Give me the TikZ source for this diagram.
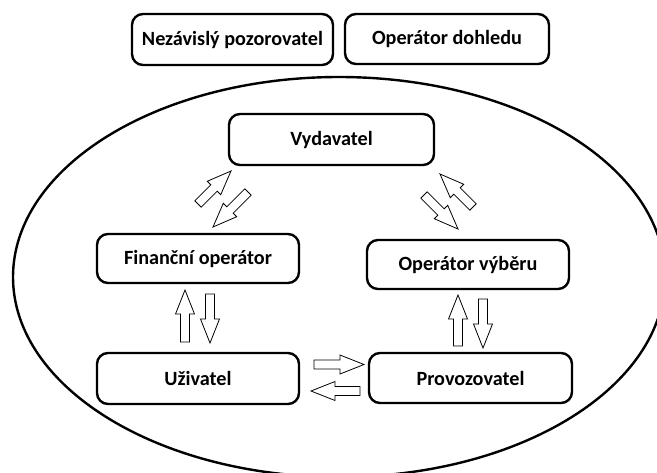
\documentclass[tikz,border=0pt]{standalone}
\usepackage{fontspec}
\setmainfont{Carlito}
\usetikzlibrary{calc}
\tikzset{
  box/.style={draw=black, line width=2.4pt, rounded corners=11pt, inner sep=0pt,
    font=\fontsize{20.2}{22}\selectfont\bfseries, text=black},
  blockarrowstyle/.style={draw=black, line width=0.8pt, fill=white, line join=miter},
  rim/.style={draw=black, line width=2.4pt}
}
\newcommand\blockarrow[2]{%
  \draw[blockarrowstyle] let \p1=($(#2)-(#1)$), \n1={atan2(\y1,\x1)}, \n2={veclen(\x1,\y1)} in
    [shift={(#1)}, rotate=\n1]
    (0,-4.5) -- ({\n2-24},-4.5) -- ({\n2-24},-9.5) -- (\n2,0) --
    ({\n2-24},9.5) -- ({\n2-24},4.5) -- (0,4.5) -- cycle;}
\begin{document}
\begin{tikzpicture}[x=1pt,y=-1pt]
\useasboundingbox (0,0) rectangle (657,472);
\clip (0,0) rectangle (657,472);
\fill[white] (0,0) rectangle (657,472);
% outer ellipse
\draw[rim] (339,277) ellipse [x radius=326pt, y radius=200pt];
% boxes
\node[box, minimum width=201pt, minimum height=51pt] (nez) at (232.5,39.5) {Nezávislý pozorovatel};
\node[box, minimum width=204pt, minimum height=50pt] (doh) at (447,39) {Operátor dohledu};
\node[box, minimum width=205pt, minimum height=51pt] (vyd) at (331.5,139.5) {Vydavatel};
\node[box, minimum width=202pt, minimum height=49pt] (fin) at (198,258.5) {Finanční operátor};
\node[box, minimum width=202pt, minimum height=49pt] (vyb) at (468,264.5) {Operátor výběru};
\node[box, minimum width=202pt, minimum height=51pt] (uzi) at (198,378.5) {Uživatel};
\node[box, minimum width=203pt, minimum height=50pt] (pro) at (470.5,378) {Provozovatel};
% arrow end points
\coordinate (fu1) at (185,342); \coordinate (fu2) at (185,290);
\coordinate (fd1) at (210,294); \coordinate (fd2) at (210,343);
\coordinate (ou1) at (458,346); \coordinate (ou2) at (458,295);
\coordinate (od1) at (483,299); \coordinate (od2) at (483,348);
\coordinate (hr1) at (314,364.5); \coordinate (hr2) at (364,364.5);
\coordinate (hl1) at (360,391); \coordinate (hl2) at (311,391);
\coordinate (lu1) at (198,204); \coordinate (lu2) at (231,171);
\coordinate (ld1) at (248,192); \coordinate (ld2) at (213,227);
\coordinate (rd1) at (424,195); \coordinate (rd2) at (458,229);
\coordinate (ru1) at (473,207); \coordinate (ru2) at (440,174);
\blockarrow{fu1}{fu2}
\blockarrow{fd1}{fd2}
\blockarrow{ou1}{ou2}
\blockarrow{od1}{od2}
\blockarrow{hr1}{hr2}
\blockarrow{hl1}{hl2}
\blockarrow{lu1}{lu2}
\blockarrow{ld1}{ld2}
\blockarrow{rd1}{rd2}
\blockarrow{ru1}{ru2}
\end{tikzpicture}
\end{document}
